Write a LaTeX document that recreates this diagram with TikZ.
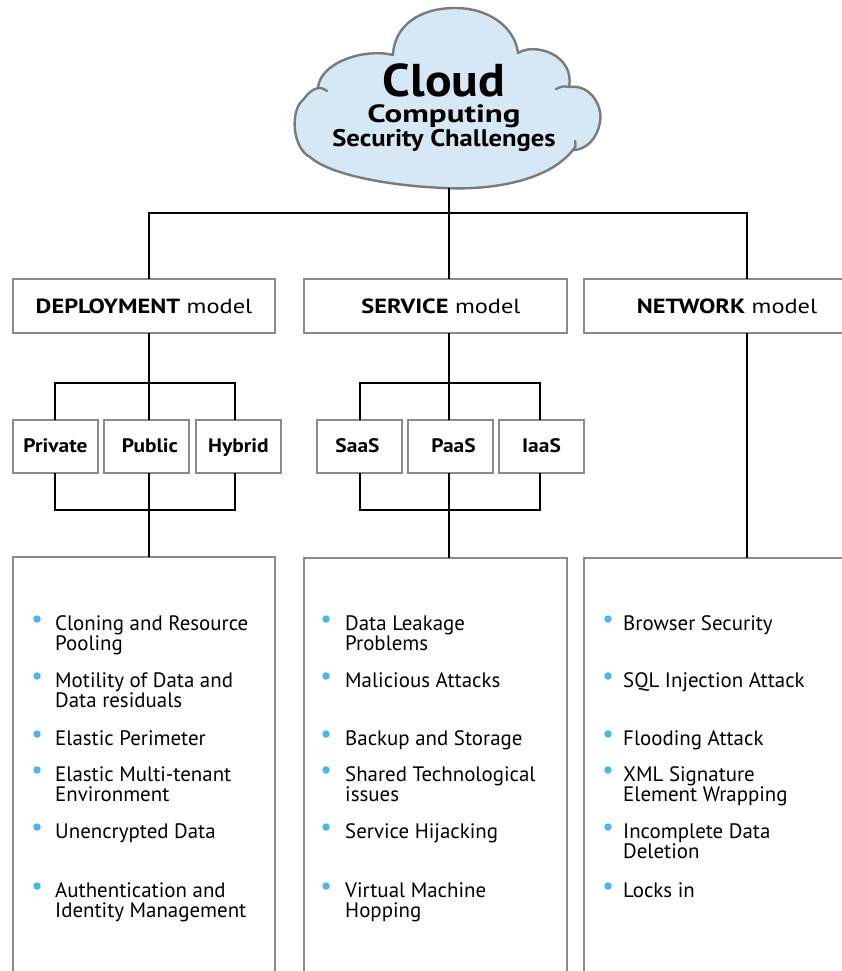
\documentclass[tikz,border=0pt]{standalone}
\usepackage{fontspec}
\usepackage{graphicx}
\setmainfont{PT Sans}
\definecolor{boxgray}{HTML}{8A8A8A}
\definecolor{cloudfill}{HTML}{D6E8F5}
\definecolor{cloudline}{HTML}{7A7A7A}
\definecolor{bulletblue}{HTML}{4DB6E6}
\newcommand\hdx[1]{\scalebox{1.19}[1]{#1}}
\newcommand\sbx[1]{\scalebox{1.1}[1]{#1}}
\newcommand\cloudstack{\vtop{\baselineskip=24pt \lineskiplimit=-100pt \lineskip=0pt
  \halign{\hfil##\hfil\cr
  \fontsize{46}{46}\selectfont\scalebox{1.08}[1]{Cloud}\cr
  \noalign{\kern2pt}
  \fontsize{25}{25}\selectfont\scalebox{1.32}[1]{Computing}\cr
  \fontsize{24}{24}\selectfont\scalebox{1.11}[1]{Security Challenges}\cr}}}
\begin{document}
\begin{tikzpicture}[x=1pt,y=-1pt,
  box/.style={draw=boxgray, line width=1.8pt, fill=white, inner sep=0pt, outer sep=0pt},
  head/.style={box, minimum height=54pt, text height=17pt, text depth=2.4pt, font=\fontsize{20.5}{22}\selectfont},
  sub/.style={box, minimum width=85pt, minimum height=53pt, text height=14.5pt, text depth=3pt, font=\bfseries\fontsize{19.5}{21}\selectfont},
  listbox/.style={box, anchor=north west, minimum height=450pt},
  conn/.style={draw=black, line width=2.8pt},
  item/.style={anchor=base west, inner sep=0pt, font=\fontsize{20.9}{22}\selectfont},
  dot/.style={circle, fill=bulletblue, inner sep=0pt, minimum size=7.5pt},
  cloudline/.style={draw=cloudline, line width=2.4pt, line cap=round, line join=round}]
\clip (0,0) rectangle (842,971);
\fill[white] (0,0) rectangle (842,971);

% cloud
\filldraw[fill=cloudfill, cloudline]
  (393,54) .. controls (395,25) and (420,8) .. (455,8)
  .. controls (490,8) and (515,28) .. (518,53)
  .. controls (535,42) and (575,55) .. (569,87)
  .. controls (592,84) and (603,108) .. (600,122)
  .. controls (597,140) and (585,150) .. (573,150)
  .. controls (545,185) and (480,190) .. (445,188)
  .. controls (390,186) and (330,175) .. (310,157)
  .. controls (292,148) and (290,110) .. (303,100)
  .. controls (308,93) and (313,89) .. (318,88)
  .. controls (320,62) and (365,48) .. (393,55) -- cycle;
\draw[cloudline] (569,87) .. controls (563,86) .. (556,89);
\draw[cloudline] (573,150) .. controls (576,146) .. (575,141);
\draw[cloudline] (318,88) .. controls (322,88) .. (327,91);
\node[anchor=base, inner sep=0pt, font=\bfseries] (cloud) at (444,97) {\cloudstack};
\coordinate (cloudbot) at (449,188);

% column x positions
\coordinate (dx) at (149,0);
\coordinate (sx) at (449,0);
\coordinate (nx) at (747,0);
\coordinate (pl) at (55,0);
\coordinate (hl) at (235,0);
\coordinate (sl) at (360,0);
\coordinate (il) at (540,0);
\coordinate (topbar) at (0,213);
\coordinate (bar1) at (0,383);
\coordinate (bar2) at (0,510);

% header boxes
\node[head, minimum width=262pt] (dep) at (144,306) {\hdx{\textbf{DEPLOYMENT} model}};
\node[head, minimum width=263pt] (srv) at (435.5,306) {\hspace{11pt}\hdx{\textbf{SERVICE} model}};
\node[head, minimum width=286pt] (net) at (727,306) {\hdx{\textbf{NETWORK} model}};

% sub boxes
\node[sub] (priv) at (55.5,446.5) {\sbx{Private}};
\node[sub] (pub) at (146.5,446.5) {\hspace{7pt}\sbx{Public}};
\node[sub] (hyb) at (238.5,446.5) {\sbx{Hybrid}};
\node[sub] (saas) at (359.5,446.5) {\hspace{-4pt}\sbx{SaaS}};
\node[sub] (paas) at (450.5,446.5) {\hspace{6pt}\sbx{PaaS}};
\node[sub] (iaas) at (541.5,446.5) {\sbx{IaaS}};

% list boxes
\node[listbox, minimum width=262pt] (deplist) at (13,557) {};
\node[listbox, minimum width=263pt] (srvlist) at (304,558) {};
\node[listbox, minimum width=286pt] (netlist) at (584,558) {};

% connectors: top
\draw[conn] (cloudbot) -- (cloudbot |- topbar);
\draw[conn] (dep.north -| dx) -- (dx |- topbar) -- (nx |- topbar) -- (net.north -| nx);
\draw[conn] (sx |- topbar) -- (srv.north -| sx);

% deployment fork
\draw[conn] (dep.south -| dx) -- (pub.north -| dx);
\draw[conn] (priv.north -| pl) -- (pl |- bar1) -- (hl |- bar1) -- (hyb.north -| hl);
\draw[conn] (priv.south -| pl) -- (pl |- bar2) -- (hl |- bar2) -- (hyb.south -| hl);
\draw[conn] (pub.south -| dx) -- (deplist.north -| dx);

% service fork
\draw[conn] (srv.south -| sx) -- (paas.north -| sx);
\draw[conn] (saas.north -| sl) -- (sl |- bar1) -- (il |- bar1) -- (iaas.north -| il);
\draw[conn] (saas.south -| sl) -- (sl |- bar2) -- (il |- bar2) -- (iaas.south -| il);
\draw[conn] (paas.south -| sx) -- (srvlist.north -| sx);

% network
\draw[conn] (net.south -| nx) -- (netlist.north -| nx);

% deployment list
\foreach \t/\y [count=\i] in {Cloning and Resource/630, Pooling/650,
  Motility of Data and/687, Data residuals/707, Elastic Perimeter/745,
  Elastic Multi-tenant/781, Environment/801, Unencrypted Data/838,
  Authentication and/897, Identity Management/917}
  \node[item] (dl\i) at (55,\y) {\t};
\foreach \y [count=\i] in {630,687,745,781,838,897}
  \node[dot] (db\i) at (37,\y-11) {};

% service list
\foreach \t/\y [count=\i] in {Data Leakage/630, Problems/650,
  Malicious Attacks/687, Backup and Storage/745,
  Shared Technological/781, issues/801, Service Hijacking/838,
  Virtual Machine/897, Hopping/917}
  \node[item] (sl\i) at (345,\y) {\t};
\foreach \y [count=\i] in {630,687,745,781,838,897}
  \node[dot] (sb\i) at (326,\y-11) {};

% network list
\foreach \t/\y [count=\i] in {Browser Security/630, SQL Injection Attack/687,
  Flooding Attack/745, XML Signature/781, Element Wrapping/801,
  Incomplete Data/838, Deletion/858, Locks in/897}
  \node[item] (nl\i) at (623,\y) {\t};
\foreach \y [count=\i] in {630,687,745,781,838,897}
  \node[dot] (nb\i) at (608,\y-11) {};
\end{tikzpicture}
\end{document}
